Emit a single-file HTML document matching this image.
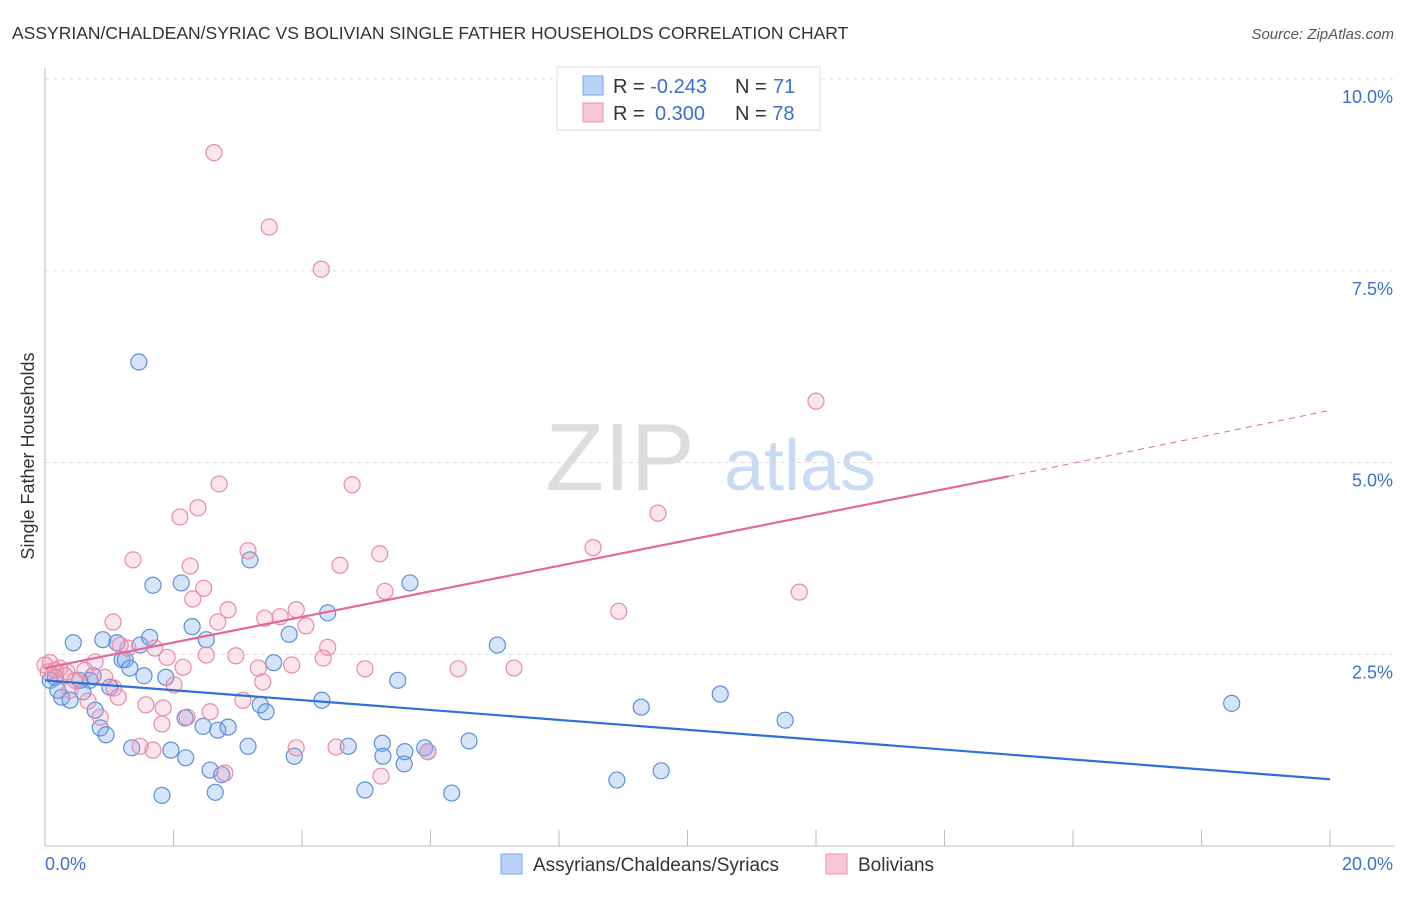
<!DOCTYPE html>
<html><head><meta charset="utf-8"><style>
body{margin:0;background:#fff;font-family:"Liberation Sans",sans-serif;}
svg text{font-family:"Liberation Sans",sans-serif;}
</style></head><body>
<svg id="chart" width="1406" height="892">
<text x="12" y="39" font-size="17.5" fill="#333">ASSYRIAN/CHALDEAN/SYRIAC VS BOLIVIAN SINGLE FATHER HOUSEHOLDS CORRELATION CHART</text>
<text x="1394" y="39" font-size="15" fill="#555" font-style="italic" text-anchor="end">Source: ZipAtlas.com</text>
<text x="620" y="490" font-size="96" fill="#ddd" font-family="Liberation Serif" text-anchor="middle">ZIP</text>
<text x="800" y="490" font-size="72" fill="#c9dbf3" text-anchor="middle">atlas</text>
<g id="grid"></g><g id="axes"></g><g id="pts"></g><g id="lines"></g>
<text transform="translate(34,456) rotate(-90)" font-size="18" fill="#333" text-anchor="middle">Single Father Households</text>
<g>
<rect x="557" y="67" width="263" height="63" fill="#fff" stroke="#ddd"/>
<rect x="583" y="76" width="20" height="19" fill="#b9d2f5" stroke="#7aa6e6"/>
<rect x="583" y="103" width="20" height="19" fill="#f9c6d6" stroke="#eb93b0"/>
<text x="613" y="93" font-size="20" fill="#333">R = <tspan fill="#3a6fd0">-0.243</tspan><tspan x="735">N = </tspan><tspan fill="#3a6fd0" x="773">71</tspan></text>
<text x="613" y="120" font-size="20" fill="#333">R = <tspan fill="#3a6fd0" x="655">0.300</tspan><tspan x="735">N = </tspan><tspan fill="#3a6fd0">78</tspan></text>
</g>
<g>
<rect x="501" y="854" width="21" height="20" fill="#b9d2f5" stroke="#7aa6e6"/>
<text x="533" y="871" font-size="19" fill="#333">Assyrians/Chaldeans/Syriacs</text>
<rect x="826" y="854" width="21" height="20" fill="#f9c6d6" stroke="#eb93b0"/>
<text x="858" y="871" font-size="19" fill="#333">Bolivians</text>
</g>
</svg>
<script>
const xTicks=[0,20];
const yTicks=[2.5,5,7.5,10];
const blueX=[1.46,.08,.16,.26,.44,.39,.59,.70,.78,.86,.90,.95,1.01,1.12,1.20,1.25,1.32,1.35,1.48,1.54,1.63,1.68,1.82,1.88,1.96,2.12,2.19,2.29,2.18,2.46,2.51,2.57,2.65,2.69,2.75,2.85,3.16,3.19,3.35,3.44,3.56,3.80,3.88,4.31,4.40,4.72,4.98,5.25,5.26,5.49,5.59,5.60,5.68,5.91,5.96,6.33,6.60,7.04,8.90,9.28,9.59,10.51,11.52,18.47,.20,.54,.75];
const blueY=[6.31,2.16,2.20,1.94,2.65,1.90,2.01,2.16,1.77,1.54,2.69,1.45,2.07,2.65,2.43,2.43,2.32,1.28,2.62,2.22,2.72,3.40,0.66,2.20,1.25,3.43,1.15,2.86,1.67,1.56,2.69,0.99,0.70,1.51,0.93,1.55,1.30,3.73,1.84,1.75,2.39,2.76,1.17,1.90,3.04,1.30,0.73,1.34,1.17,2.16,1.07,1.23,3.43,1.28,1.23,0.69,1.37,2.62,0.86,1.81,0.98,1.98,1.64,1.86,2.03,2.16,2.22];
const pinkX=[2.63,3.49,4.30,12.00,2.71,4.78,2.38,2.10,9.54,3.16,1.37,8.53,5.21,4.59,2.26,2.47,5.29,11.74,2.30,2.85,8.93,3.91,3.66,3.42,2.69,1.06,4.06,4.40,1.71,2.97,2.51,4.33,2.15,1.90,.78,1.17,.08,.23,.34,.47,.62,.93,1.07,1.14,1.29,2.01,3.08,3.39,3.84,3.32,4.98,6.43,7.30,1.57,1.84,2.21,2.57,.86,.67,1.82,3.91,4.53,5.23,5.96,1.68,1.48,2.80,.16,.31,.39,0,.05];
const pinkY=[9.04,8.07,7.52,5.80,4.72,4.71,4.41,4.29,4.34,3.85,3.73,3.89,3.81,3.66,3.65,3.36,3.32,3.31,3.22,3.08,3.06,3.08,2.99,2.97,2.92,2.92,2.87,2.59,2.58,2.48,2.49,2.45,2.33,2.46,2.40,2.62,2.39,2.32,2.27,2.16,2.29,2.20,2.06,1.94,2.58,2.10,1.90,2.14,2.36,2.32,2.31,2.31,2.32,1.84,1.80,1.68,1.75,1.68,1.89,1.59,1.28,1.29,0.91,1.23,1.25,1.30,0.95,2.29,2.22,2.03,2.36,2.27];
const blueTrend=[[0,2.16],[20,0.87]];
const pinkTrend=[[0,2.32],[15,4.82],[20,5.68]];
const NS='http://www.w3.org/2000/svg';
const X=v=>45+v*64.25, Y=v=>846-v*76.7;
function mk(p,t,a){const e=document.createElementNS(NS,t);for(const k in a)e.setAttribute(k,a[k]);p.appendChild(e);return e;}
const grid=document.getElementById('grid'),axes=document.getElementById('axes'),pts=document.getElementById('pts'),lines=document.getElementById('lines');
yTicks.forEach(t=>{const l=mk(grid,'line',{x1:45,x2:1394,y1:Y(t),y2:Y(t),stroke:'#ddd','stroke-dasharray':'4,4'});


const tx=mk(axes,'text',{x:1393,y:Y(t)+24,'font-size':18,fill:'#3a6fd0','text-anchor':'end'});tx.textContent=t.toFixed(1)+'%';

});
mk(axes,'line',{x1:45,x2:45,y1:68,y2:846,stroke:'#bbb'});
mk(axes,'line',{x1:45,x2:1394,y1:846,y2:846,stroke:'#bbb'});
for(let i=1;i<=10;i++){const t=mk(axes,'line',{x1:X(i*2),x2:X(i*2),y1:830,y2:846,stroke:'#bbb'});}
xTicks.forEach((t,i)=>{const tx=mk(axes,'text',{x:i?1393:45,y:870,'font-size':18,fill:'#3a6fd0','text-anchor':i?'end':'start'});tx.textContent=t.toFixed(1)+'%';

});
function dots(xs,ys,fill,stroke,name){xs.forEach((x,i)=>{const c=mk(pts,'circle',{cx:X(x),cy:Y(ys[i]),r:8,fill:fill,stroke:stroke,'stroke-width':1.2});

});}
dots(blueX,blueY,'rgba(120,165,235,0.3)','#5b8fd9','assyrian-point');
dots(pinkX,pinkY,'rgba(240,150,180,0.25)','#e88aa8','bolivian-point');
const bl=mk(lines,'line',{x1:X(blueTrend[0][0]),y1:Y(blueTrend[0][1]),x2:X(blueTrend[1][0]),y2:Y(blueTrend[1][1]),stroke:'#2f6fd6','stroke-width':2.2});


const pl=mk(lines,'line',{x1:X(pinkTrend[0][0]),y1:Y(pinkTrend[0][1]),x2:X(pinkTrend[1][0]),y2:Y(pinkTrend[1][1]),stroke:'#e4679a','stroke-width':2.2});


const pd=mk(lines,'line',{x1:X(pinkTrend[1][0]),y1:Y(pinkTrend[1][1]),x2:X(pinkTrend[2][0]),y2:Y(pinkTrend[2][1]),stroke:'#e4679a','stroke-width':1,'stroke-dasharray':'6,5'});


</script>
</body></html>
